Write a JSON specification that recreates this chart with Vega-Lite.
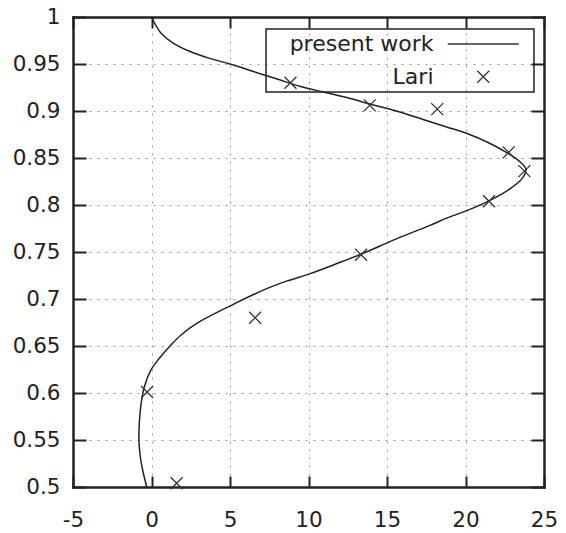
{
  "$schema": "https://vega.github.io/schema/vega-lite/v6.json",
  "width": 471,
  "height": 470,
  "autosize": "none",
  "padding": {"left": 73, "top": 17, "right": 22, "bottom": 46},
  "background": "white",
  "config": {
    "view": {"stroke": null},
    "font": "DejaVu Sans",
    "legend": {"strokeWidth": 1.5}
  },
  "datasets": {
    "curve": [
      {"i": 0, "x": 0, "y": 1},
      {"i": 1, "x": 0.25, "y": 0.992},
      {"i": 2, "x": 0.6, "y": 0.983},
      {"i": 3, "x": 1.4, "y": 0.972},
      {"i": 4, "x": 2.5, "y": 0.963},
      {"i": 5, "x": 3.7, "y": 0.956},
      {"i": 6, "x": 5.0, "y": 0.95},
      {"i": 7, "x": 6.5, "y": 0.942},
      {"i": 8, "x": 8.0, "y": 0.934},
      {"i": 9, "x": 9.5, "y": 0.926},
      {"i": 10, "x": 11.0, "y": 0.92},
      {"i": 11, "x": 12.5, "y": 0.914},
      {"i": 12, "x": 14.0, "y": 0.907},
      {"i": 13, "x": 15.6, "y": 0.9},
      {"i": 14, "x": 17.3, "y": 0.891},
      {"i": 15, "x": 18.8, "y": 0.883},
      {"i": 16, "x": 20.1, "y": 0.876},
      {"i": 17, "x": 21.5, "y": 0.866},
      {"i": 18, "x": 22.6, "y": 0.856},
      {"i": 19, "x": 23.4, "y": 0.847},
      {"i": 20, "x": 23.85, "y": 0.838},
      {"i": 21, "x": 23.6, "y": 0.828},
      {"i": 22, "x": 22.9, "y": 0.818},
      {"i": 23, "x": 21.56, "y": 0.805},
      {"i": 24, "x": 20.08, "y": 0.794},
      {"i": 25, "x": 18.8, "y": 0.786},
      {"i": 26, "x": 17.7, "y": 0.778},
      {"i": 27, "x": 15.6, "y": 0.764},
      {"i": 28, "x": 13.4, "y": 0.748},
      {"i": 29, "x": 11.7, "y": 0.737},
      {"i": 30, "x": 10.1, "y": 0.727},
      {"i": 31, "x": 8.6, "y": 0.719},
      {"i": 32, "x": 7.34, "y": 0.711},
      {"i": 33, "x": 5.05, "y": 0.693},
      {"i": 34, "x": 2.88, "y": 0.674},
      {"i": 35, "x": 1.9, "y": 0.662},
      {"i": 36, "x": 1.18, "y": 0.65},
      {"i": 37, "x": 0.5, "y": 0.637},
      {"i": 38, "x": -0.05, "y": 0.624},
      {"i": 39, "x": -0.45, "y": 0.607},
      {"i": 40, "x": -0.65, "y": 0.59},
      {"i": 41, "x": -0.77, "y": 0.57},
      {"i": 42, "x": -0.8, "y": 0.55},
      {"i": 43, "x": -0.72, "y": 0.533},
      {"i": 44, "x": -0.55, "y": 0.517},
      {"i": 45, "x": -0.3, "y": 0.5}
    ],
    "lari": [
      {"series": "Lari", "x": 8.85, "y": 0.93},
      {"series": "Lari", "x": 13.9, "y": 0.906},
      {"series": "Lari", "x": 18.2, "y": 0.902},
      {"series": "Lari", "x": 22.75, "y": 0.856},
      {"series": "Lari", "x": 23.75, "y": 0.836},
      {"series": "Lari", "x": 21.5, "y": 0.804},
      {"series": "Lari", "x": 13.35, "y": 0.747},
      {"series": "Lari", "x": 6.6, "y": 0.68},
      {"series": "Lari", "x": -0.28, "y": 0.601},
      {"series": "Lari", "x": 1.6, "y": 0.504}
    ]
  },
  "layer": [
    {
      "data": {"name": "curve"},
      "mark": {"type": "line", "color": "#222222", "strokeWidth": 1.5, "interpolate": "catmull-rom"},
      "encoding": {
        "x": {
          "field": "x", "type": "quantitative",
          "scale": {"domain": [-5, 25], "nice": false, "zero": false},
          "axis": {
            "orient": "bottom", "title": null,
            "values": [-5, 0, 5, 10, 15, 20, 25],
            "labelExpr": "'' + datum.value",
            "labelFont": "DejaVu Sans", "labelFontSize": 21.5, "labelColor": "#222222",
            "labelPadding": 33, "labelFlush": false, "labelOverlap": false,
            "domainColor": "#222222", "domainWidth": 2.5, "domainCap": "square",
            "tickColor": "#222222", "tickWidth": 2, "tickSize": -11,
            "grid": true, "gridColor": "#999999", "gridDash": [2, 6], "gridWidth": 1
          }
        },
        "y": {
          "field": "y", "type": "quantitative",
          "scale": {"domain": [0.5, 1], "nice": false, "zero": false},
          "axis": {
            "orient": "left", "title": null,
            "values": [0.5, 0.55, 0.6, 0.65, 0.7, 0.75, 0.8, 0.85, 0.9, 0.95, 1],
            "format": ".2~f",
            "labelFont": "DejaVu Sans", "labelFontSize": 21.5, "labelColor": "#222222",
            "labelPadding": 26, "labelFlush": false, "labelOverlap": false,
            "domainColor": "#222222", "domainWidth": 2.5, "domainCap": "square",
            "tickColor": "#222222", "tickWidth": 2, "tickSize": -13,
            "grid": true, "gridColor": "#999999", "gridDash": [2, 6], "gridWidth": 1
          }
        },
        "order": {"field": "i", "type": "quantitative"}
      }
    },
    {
      "data": {"name": "lari"},
      "mark": {"type": "point", "filled": false, "color": "#333333", "strokeWidth": 1.3, "size": 144, "opacity": 1},
      "encoding": {
        "x": {
          "field": "x", "type": "quantitative",
          "scale": {"domain": [-5, 25], "nice": false, "zero": false},
          "axis": {
            "orient": "top", "title": null, "labels": false, "grid": false,
            "values": [-5, 0, 5, 10, 15, 20, 25],
            "domainColor": "#222222", "domainWidth": 2.5, "domainCap": "square",
            "tickColor": "#222222", "tickWidth": 2, "tickSize": -11
          }
        },
        "y": {
          "field": "y", "type": "quantitative",
          "scale": {"domain": [0.5, 1], "nice": false, "zero": false},
          "axis": {
            "orient": "right", "title": null, "labels": false, "grid": false,
            "values": [0.5, 0.55, 0.6, 0.65, 0.7, 0.75, 0.8, 0.85, 0.9, 0.95, 1],
            "domainColor": "#222222", "domainWidth": 2.5, "domainCap": "square",
            "tickColor": "#222222", "tickWidth": 2, "tickSize": -13
          }
        },
        "shape": {
          "field": "series", "type": "nominal",
          "scale": {
            "domain": ["present work", "Lari"],
            "range": [
              "M-35.5,0M-5.92,0H5.92M7.33,0",
              "M-35.5,0M-1,-1L1,1M-1,1L1,-1M7.33,0"
            ]
          },
          "legend": {
            "title": null,
            "orient": "none", "legendX": 193, "legendY": 12,
            "direction": "vertical", "columns": 1,
            "padding": 4, "rowPadding": 10.7,
            "strokeColor": "#222222", "fillColor": null,
            "labelAlign": "right", "labelOffset": -60.75, "symbolOffset": 202.25,
            "labelFont": "DejaVu Sans", "labelFontSize": 22, "labelColor": "#222222", "labelLimit": 400,
            "symbolSize": 144, "symbolStrokeWidth": 1.3, "symbolStrokeColor": "#333333",
            "symbolFillColor": "transparent"
          }
        }
      }
    }
  ],
  "resolve": {"axis": {"x": "independent", "y": "independent"}}
}
